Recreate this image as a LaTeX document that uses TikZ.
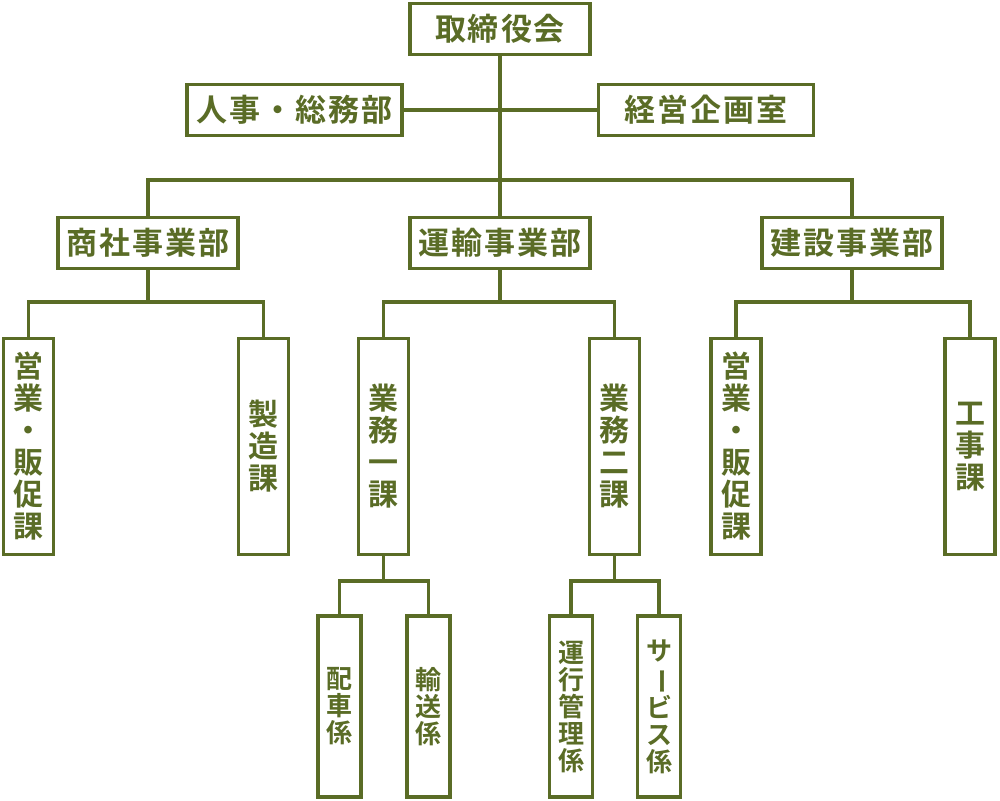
\documentclass[tikz,border=0pt]{standalone}
\usepackage{fontspec}
\setmainfont{Noto Sans CJK JP}[BoldFont={Noto Sans CJK JP Bold}]
\definecolor{olive}{RGB}{90,108,38}
\newcommand{\gp}{\hspace{2pt}}
\newcommand{\vbar}{\rotatebox[origin=c]{-90}{ー}}
\begin{document}
\begin{tikzpicture}[x=1pt,y=-1pt,
  line width=3.4pt, draw=olive,
  box/.style={draw=olive, line width=3.4pt, fill=white, text=olive, inner sep=0pt,
    font=\bfseries\fontsize{31}{33}\selectfont, minimum height=51pt},
  tall/.style={draw=olive, line width=3.4pt, fill=white, text=olive, inner sep=0pt, align=center,
    font=\bfseries\fontsize{30}{32}\selectfont, minimum width=50pt, minimum height=216pt},
  small/.style={draw=olive, line width=3.4pt, fill=white, text=olive, inner sep=0pt, align=center,
    font=\bfseries\fontsize{26}{27}\selectfont, minimum width=43pt, minimum height=181pt}]
\useasboundingbox (0,0) rectangle (1000,800);
% top levels
\node[box, minimum width=180pt] (top) at (500,29) {取\gp 締\gp 役\gp 会};
\node[box, minimum width=215pt] (hr) at (294.5,110) {人\gp 事\gp ・\gp 総\gp 務\gp 部};
\node[box, minimum width=215pt] (plan) at (706,110) {経\gp 営\gp 企\gp 画\gp 室};
\node[box, minimum width=180pt] (shosha) at (148,243) {商\gp 社\gp 事\gp 業\gp 部};
\node[box, minimum width=180pt] (unyu) at (500,243) {運\gp 輸\gp 事\gp 業\gp 部};
\node[box, minimum width=180pt] (kens) at (852,243) {建\gp 設\gp 事\gp 業\gp 部};
% tall boxes
\node[tall] (s1) at (28.5,446.5) {営\\業\\・\\販\\促\\課};
\node[tall] (s2) at (263.5,446.5) {製\\造\\課};
\node[tall] (u1) at (383.5,446.5) {業\\務\\一\\課};
\node[tall] (u2) at (614.5,446.5) {業\\務\\二\\課};
\node[tall] (k1) at (736,446.5) {営\\業\\・\\販\\促\\課};
\node[tall] (k2) at (970,446.5) {工\\事\\課};
% bottom boxes
\node[small] (b1) at (339.5,706.5) {配\\車\\係};
\node[small] (b2) at (428.5,706.5) {輸\\送\\係};
\node[small] (b3) at (571,706.5) {運\\行\\管\\理\\係};
\node[small] (b4) at (659,706.5) {サ\\\vbar\\ビ\\ス\\係};
% junctions
\coordinate (j0) at (500,180);
\coordinate (js) at (148,302);
\coordinate (ju) at (500,302);
\coordinate (jk) at (852,302);
\coordinate (ju1) at (383.5,581);
\coordinate (ju2) at (614.5,581);
% connectors
\draw (top.south) -- (unyu.north);
\draw (hr.east) -- (plan.west);
\draw (shosha.north) |- (j0) -| (kens.north);
\draw (shosha.south) -- (js);
\draw (s1.north) |- (js) -| (s2.north);
\draw (unyu.south) -- (ju);
\draw (u1.north) |- (ju) -| (u2.north);
\draw (kens.south) -- (jk);
\draw (k1.north) |- (jk) -| (k2.north);
\draw (u1.south) -- (ju1);
\draw (b1.north) |- (ju1) -| (b2.north);
\draw (u2.south) -- (ju2);
\draw (b3.north) |- (ju2) -| (b4.north);
\end{tikzpicture}
\end{document}
